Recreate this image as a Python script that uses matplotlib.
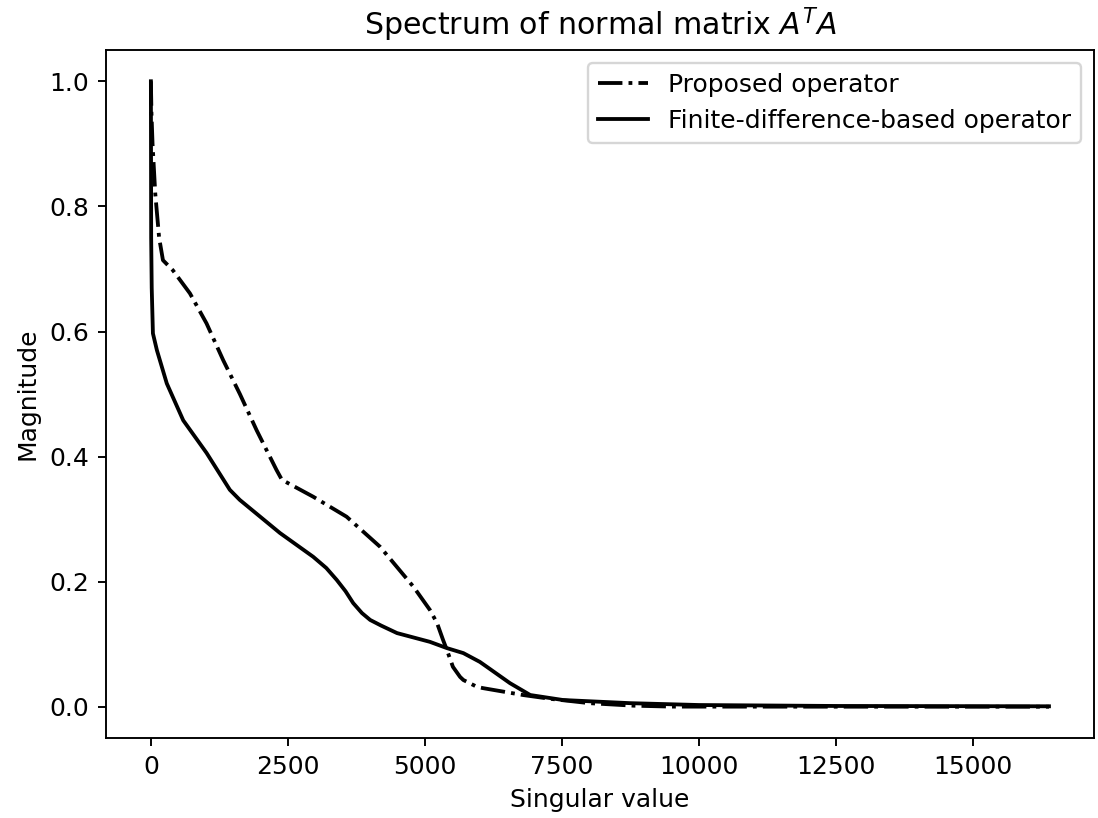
"""Spectrum of the normal matrix A^T A for two operators."""
import matplotlib
matplotlib.use("Agg")
import matplotlib.pyplot as plt

plt.rcParams["font.size"] = 10.5

# Proposed operator (dash-dot)
prop_x = [0, 10, 30, 80, 150, 220, 400, 712, 1015, 1320, 1624, 1930, 2290,
          2390, 2960, 3570, 4180, 4790, 5090, 5220, 5330, 5400, 5510, 5640,
          5700, 5950, 6060, 6790, 7280, 8000, 8800, 9500, 12000, 16383]
prop_y = [1.0, 0.95, 0.90, 0.82, 0.75, 0.714, 0.698, 0.661, 0.613, 0.554,
          0.50, 0.442, 0.379, 0.363, 0.336, 0.304, 0.256, 0.192, 0.155, 0.134,
          0.107, 0.091, 0.064, 0.048, 0.043, 0.032, 0.030, 0.019, 0.013, 0.006,
          0.002, 0.0005, 0.0004, 0.0003]

# Finite-difference-based operator (solid)
fd_x = [0, 5, 15, 37, 110, 290, 590, 1015, 1440, 1620, 2354, 2960, 3200,
        3390, 3550, 3690, 3850, 4000, 4200, 4490, 5090, 5400, 5700, 6000,
        6130, 6550, 6920, 7520, 8740, 10000, 12500, 16383]
fd_y = [1.0, 0.75, 0.67, 0.597, 0.570, 0.517, 0.458, 0.406, 0.347, 0.331,
        0.278, 0.240, 0.222, 0.203, 0.185, 0.166, 0.150, 0.139, 0.130, 0.118,
        0.104, 0.094, 0.086, 0.072, 0.064, 0.038, 0.019, 0.011, 0.006, 0.003,
        0.0015, 0.001]

fig = plt.figure(figsize=(6.4, 818 / 171.7), dpi=171.7)
ax = fig.add_axes([106 / 1099, 1 - 738 / 818, (1094 - 106) / 1099, (738 - 50) / 818])

ax.plot(prop_x, prop_y, "k-.", linewidth=1.6, label="Proposed operator")
ax.plot(fd_x, fd_y, "k-", linewidth=1.6, label="Finite-difference-based operator")

ax.set_title("Spectrum of normal matrix $A^TA$")
ax.set_xlabel("Singular value")
ax.set_ylabel("Magnitude")
ax.legend(loc="upper right")

fig.savefig("out.png", dpi=171.7)
